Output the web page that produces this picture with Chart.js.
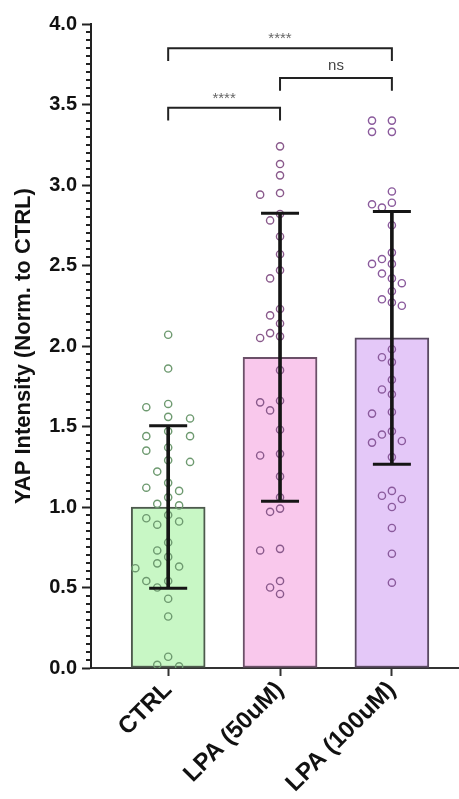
<!DOCTYPE html>
<html>
<head>
<meta charset="utf-8">
<script src="https://cdn.jsdelivr.net/npm/chart.js@4.4.1/dist/chart.umd.min.js"></script>
<style>
  html, body { margin: 0; padding: 0; background: #ffffff; }
  #wrap { width: 459px; height: 799px; }
</style>
</head>
<body>
<div id="wrap"><canvas id="c" width="459" height="799"></canvas></div>
<script>
// ---------------- data ----------------
const categories = ['CTRL', 'LPA (50uM)', 'LPA (100uM)'];
const ctrlValues = [2.07, 1.86, 1.64, 1.62, 1.56, 1.55, 1.47, 1.44, 1.44, 1.37, 1.35, 1.29, 1.28, 1.22, 1.15, 1.12, 1.10, 1.06, 1.02, 1.01, 0.95, 0.93, 0.91, 0.89, 0.78, 0.73, 0.69, 0.65, 0.63, 0.62, 0.54, 0.54, 0.50, 0.43, 0.32, 0.07, 0.02, 0.01];
const lpa50Values = [3.24, 3.13, 3.06, 2.95, 2.94, 2.82, 2.78, 2.68, 2.57, 2.47, 2.42, 2.23, 2.19, 2.14, 2.08, 2.06, 2.05, 1.85, 1.66, 1.65, 1.60, 1.48, 1.33, 1.32, 1.19, 1.06, 0.99, 0.97, 0.74, 0.73, 0.54, 0.50, 0.46];
const lpa100Values = [3.40, 3.40, 3.33, 3.33, 2.96, 2.89, 2.88, 2.86, 2.75, 2.58, 2.54, 2.51, 2.51, 2.45, 2.42, 2.39, 2.34, 2.29, 2.27, 2.25, 1.98, 1.93, 1.90, 1.79, 1.73, 1.70, 1.59, 1.58, 1.47, 1.45, 1.41, 1.40, 1.31, 1.10, 1.07, 1.05, 1.00, 0.87, 0.71, 0.53];
const groupMeans = [1.00, 1.93, 2.05];
const groupSD = [0.505, 0.895, 0.785];
const yTickValues = [0, 0.5, 1.0, 1.5, 2.0, 2.5, 3.0, 3.5, 4.0];
const bracketFrom = [0, 1, 0];
const bracketTo = [2, 2, 1];
const bracketHeights = [3.85, 3.665, 3.48];
const bracketLabels = ['****', 'ns', '****'];

// ---------------- styling ----------------
const FONT = '"Liberation Sans", Arial, Helvetica, sans-serif';
const barFill = ['#c8f7c5', '#f9c8ec', '#e4c8f8'];
const barEdge = ['#4d5a4d', '#6b5068', '#5a4a62'];
const pointEdge = ['#6e9a70', '#8a5a8c', '#8a5a9c'];

// simple deterministic beeswarm (layout only, pixel-based heuristic)
const PX_PER_UNIT_Y = 161;   // approx px per y unit
const PX_PER_UNIT_X = 112.5; // approx px per category
function swarm(values, groupIndex, stepPx, minDistPx) {
  const placed = [];
  const order = [0, -1, 1, -2, 2, -3, 3, -4, 4, -5, 5];
  return values.map(v => {
    let chosen = 0;
    for (const k of order) {
      const ok = placed.every(p => {
        const dx = (p.k - k) * stepPx;
        const dy = (p.v - v) * PX_PER_UNIT_Y;
        return Math.sqrt(dx * dx + dy * dy) >= minDistPx;
      });
      if (ok) { chosen = k; break; }
    }
    placed.push({ k: chosen, v });
    return { x: groupIndex + chosen * stepPx / PX_PER_UNIT_X, y: v };
  });
}

const groups = [ctrlValues, lpa50Values, lpa100Values];
const pointDatasets = groups.map((vals, i) => ({
  type: 'scatter',
  data: swarm(vals, i, i === 0 ? 11 : 10, i === 0 ? 12.5 : 10.5),
  pointStyle: 'circle',
  pointRadius: 3.6,
  pointBorderWidth: 1.4,
  pointBackgroundColor: 'rgba(0,0,0,0)',
  pointBorderColor: pointEdge[i],
  order: 4
}));

const bracketDatasets = bracketFrom.map((a, i) => {
  const b = bracketTo[i];
  const h = bracketHeights[i];
  const leg = 0.08;
  return {
    type: 'scatter',
    showLine: true,
    data: [{ x: a, y: h - leg }, { x: a, y: h }, { x: b, y: h }, { x: b, y: h - leg }],
    borderColor: '#222',
    borderWidth: 2,
    pointRadius: 0,
    fill: false,
    order: 1
  };
});

const minorTicks = {
  id: 'minorTicks',
  afterDatasetsDraw(chart) {
    const y = chart.scales.y;
    const ctx = chart.ctx;
    const left = chart.chartArea.left;
    ctx.save();
    ctx.strokeStyle = '#222';
    ctx.lineWidth = 2;
    for (let i = 0; i <= 80; i++) {
      if (i % 10 === 0) continue;
      const py = Math.round(y.getPixelForValue(i * 0.05));
      ctx.beginPath();
      ctx.moveTo(left - 5, py);
      ctx.lineTo(left, py);
      ctx.stroke();
    }
    ctx.restore();
  }
};

const bracketText = {
  id: 'bracketText',
  afterDatasetsDraw(chart) {
    const { x, y } = chart.scales;
    const ctx = chart.ctx;
    ctx.save();
    ctx.textAlign = 'center';
    ctx.textBaseline = 'alphabetic';
    bracketLabels.forEach((t, i) => {
      const cx = x.getPixelForValue((bracketFrom[i] + bracketTo[i]) / 2);
      const py = y.getPixelForValue(bracketHeights[i]);
      if (t === 'ns') {
        ctx.fillStyle = '#444';
        ctx.font = '15px ' + FONT;
        ctx.fillText(t, cx, py - 8);
      } else {
        ctx.fillStyle = '#666';
        ctx.font = '15px ' + FONT;
        ctx.fillText(t, cx, py - 5);
      }
    });
    ctx.restore();
  }
};

new Chart(document.getElementById('c'), {
  type: 'bar',
  data: {
    datasets: [
      {
        type: 'bar',
        data: groupMeans.map((m, i) => ({ x: i, y: m })),
        backgroundColor: barFill,
        borderColor: barEdge,
        borderWidth: 2,
        borderSkipped: false,
        barThickness: 74,
        grouped: false,
        order: 5
      },
      ...pointDatasets,
      {
        type: 'bar',
        data: groupMeans.map((m, i) => ({ x: i, y: [m - groupSD[i], m + groupSD[i]] })),
        backgroundColor: '#151515',
        borderWidth: 0,
        barThickness: 3,
        grouped: false,
        order: 3
      },
      {
        type: 'scatter',
        data: groupMeans.flatMap((m, i) => [{ x: i, y: m + groupSD[i] }, { x: i, y: m - groupSD[i] }]),
        pointStyle: 'line',
        pointRadius: 19,
        pointBorderWidth: 3,
        pointBorderColor: '#151515',
        order: 2
      },
      ...bracketDatasets
    ]
  },
  options: {
    responsive: false,
    animation: false,
    events: [],
    layout: { autoPadding: false, padding: { top: 24, left: 0, right: 0, bottom: 0 } },
    plugins: { legend: { display: false }, tooltip: { enabled: false } },
    scales: {
      x: {
        type: 'linear',
        offset: false,
        min: -0.69,
        max: 2.6,
        afterBuildTicks: s => { s.ticks = categories.map((c, i) => ({ value: i })); },
        afterFit: s => { s.height = 131; s.paddingRight = 0; },
        ticks: {
          callback: v => categories[v],
          minRotation: 45,
          maxRotation: 45,
          autoSkip: false,
          padding: 0,
          color: '#111',
          font: { family: FONT, size: 24, weight: 'bold' }
        },
        grid: { offset: false, drawOnChartArea: false, drawTicks: true, tickLength: 8, tickWidth: 2, tickColor: '#333' },
        border: { display: true, color: '#333', width: 2 }
      },
      y: {
        min: 0,
        max: 4,
        afterBuildTicks: s => { s.ticks = yTickValues.map(v => ({ value: v })); },
        afterFit: s => { s.width = 91; },
        ticks: {
          callback: v => Number(v).toFixed(1),
          padding: 5,
          color: '#111',
          font: { family: FONT, size: 20, weight: 'bold' }
        },
        grid: { drawOnChartArea: false, drawTicks: true, tickLength: 9, tickWidth: 2, tickColor: '#222' },
        border: { display: true, color: '#222', width: 2 },
        title: {
          display: true,
          text: 'YAP Intensity (Norm. to CTRL)',
          color: '#111',
          font: { family: FONT, size: 22, weight: 'bold' },
          padding: { top: 11, bottom: 0 }
        }
      }
    }
  },
  plugins: [minorTicks, bracketText]
});
</script>
</body>
</html>
